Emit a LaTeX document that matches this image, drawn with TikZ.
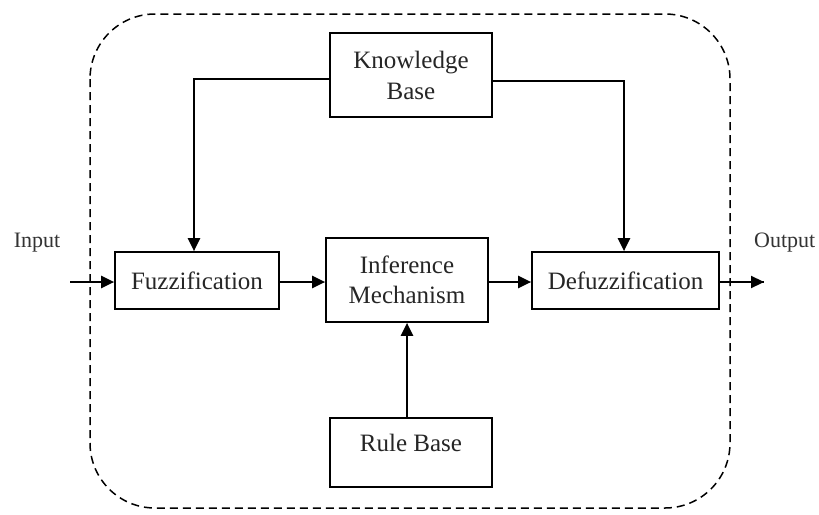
\documentclass[tikz,border=0pt]{standalone}
\usepackage{fontspec}
\setmainfont{Liberation Serif}
\usetikzlibrary{arrows.meta,calc}
\begin{document}
\begin{tikzpicture}[x=1pt,y=-1pt,
  box/.style={draw=black,line width=1.7pt,inner sep=0pt,align=center,
    font=\fontsize{25}{31}\selectfont,text=black!85},
  arr/.style={line width=2.2pt,-{Triangle[length=13pt,width=12pt]}},
  conn/.style={line width=2.2pt},
  lbl/.style={font=\fontsize{22}{26}\selectfont,text=black!80,inner sep=0pt}]
\useasboundingbox[fill=white] (0,0) rectangle (819,514);
% frame
\draw[dashed,line width=1.5pt,dash pattern=on 8pt off 5pt,rounded corners=65pt]
  (90,14) rectangle (730,508);
% boxes
\node[box,minimum width=162pt,minimum height=84pt] (kb) at (411,75) {Knowledge\\Base};
\node[box,minimum width=164pt,minimum height=57pt] (fuzz) at (197,280.5) {Fuzzification};
\node[box,minimum width=162pt,minimum height=84pt,font=\fontsize{25}{30}\selectfont] (inf) at (407,280) {Inference\\Mechanism};
\node[box,minimum width=187pt,minimum height=57pt] (defuzz) at (625.5,280.5) {Defuzzification};
\node[box,minimum width=162pt,minimum height=69pt] (rb) at (411,452.5) {};
\node[font=\fontsize{25}{31}\selectfont,text=black!85,inner sep=0pt] (rbt) at (411,443) {Rule Base};
% labels
\node[lbl] (inlbl) at (37,243) {Input};
\node[lbl,anchor=west] (outlbl) at (754,243) {Output};
\coordinate (in) at (70,282);
\coordinate (out) at (764,282);
% connectors
\draw[arr] ([yshift=-4pt]kb.west) -| ([xshift=-3pt]fuzz.north);
\draw[arr] ([yshift=-6pt]kb.east) -| ([xshift=-1.5pt]defuzz.north);
\draw[arr] (in) -- (in -| fuzz.west);
\draw[arr] ([yshift=-1.5pt]fuzz.east) -- ([yshift=-1.5pt]fuzz.east -| inf.west);
\draw[arr] ([yshift=-1.5pt]defuzz.west -| inf.east) -- ([yshift=-1.5pt]defuzz.west);
\draw[conn] (out -| defuzz.east) -- (out);
\draw[arr] (defuzz.east |- out) -- (out);
\draw[arr] (inf.south |- rb.north) -- (inf.south);
\end{tikzpicture}
\end{document}
